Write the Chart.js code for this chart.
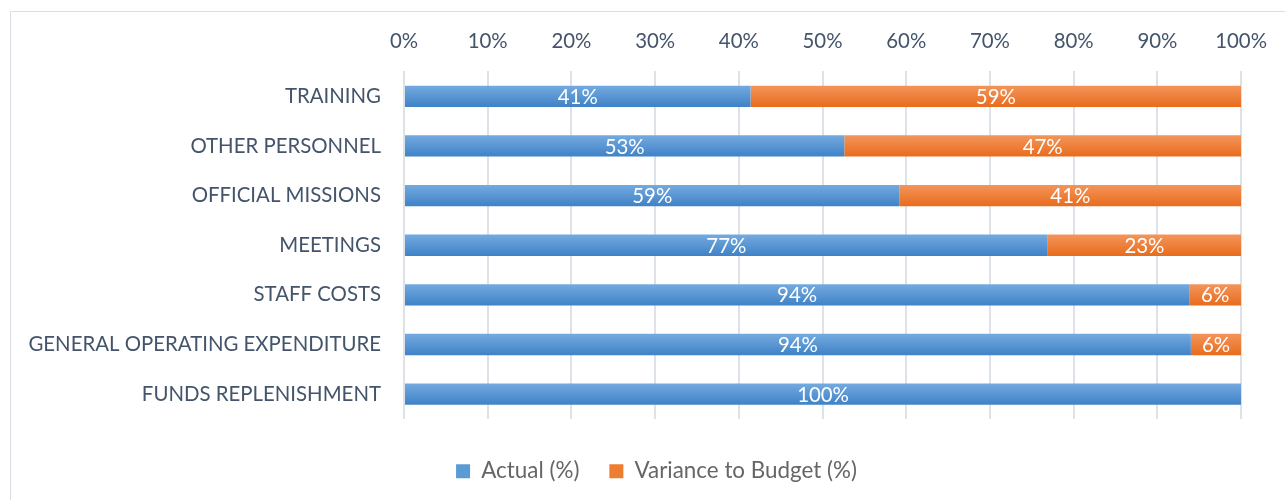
<!DOCTYPE html>
<html>
<head>
<meta charset="utf-8">
<script src="https://cdn.jsdelivr.net/npm/chart.js@4.4.0/dist/chart.umd.min.js"></script>
<style>
  html, body { margin: 0; padding: 0; background: #fff; overflow: hidden; }
  #wrap { position: relative; width: 1285px; height: 500px; }
  #frame { position: absolute; left: 10px; top: 11px; width: 1300px; height: 520px; border: 1px solid #dadee5; box-sizing: border-box; pointer-events: none; }
</style>
</head>
<body>
<div id="wrap">
  <canvas id="chart" width="1285" height="500"></canvas>
  <div id="frame"></div>
</div>
<script>
// budget execution per cost line, in % of budget
const categories = [
  'TRAINING',
  'OTHER PERSONNEL',
  'OFFICIAL MISSIONS',
  'MEETINGS',
  'STAFF COSTS',
  'GENERAL OPERATING EXPENDITURE',
  'FUNDS REPLENISHMENT'
];
const actual = [41.4, 52.6, 59.2, 76.9, 93.8, 94.0, 100];
const variance = [58.6, 47.4, 40.8, 23.1, 6.2, 6.0, 0];
const seriesNames = ['Actual (%)', 'Variance to Budget (%)'];

const FONT = 'Lato';
const TEXT = '#44546a';
const BAR_PCT = 0.43;
const PAD_LEFT = 10;
const PLOT_LEFT = 404;

// size the font so the longest label is as wide as in the picture
const probe = document.createElement('canvas').getContext('2d');
probe.font = '100px ' + FONT;
const fontSize = Math.round(353 / probe.measureText('GENERAL OPERATING EXPENDITURE').width * 1000) / 10;
const legendSize = Math.round(fontSize * 11) / 10;

// light top -> dark bottom on every bar, like the Office gradient fill
const gradientFill = (light, dark) => (context) => {
  const chart = context.chart;
  const area = chart.chartArea;
  const y = chart.scales.y;
  if (!area || !y) return dark;
  const h = area.bottom - area.top;
  const half = (y.height / categories.length) * BAR_PCT / 2;
  const g = chart.ctx.createLinearGradient(0, area.top, 0, area.bottom);
  categories.forEach((c, i) => {
    const mid = y.getPixelForValue(i);
    const t = Math.min(Math.max((mid - half - area.top) / h, 0), 1);
    const b = Math.min(Math.max((mid + half - area.top) / h, 0), 1);
    g.addColorStop(t, light);
    g.addColorStop(b, dark);
  });
  return g;
};

const barLabels = {
  id: 'barLabels',
  afterDatasetsDraw(chart) {
    const ctx = chart.ctx;
    ctx.save();
    ctx.font = fontSize + 'px ' + FONT;
    ctx.fillStyle = '#ffffff';
    ctx.textAlign = 'center';
    ctx.textBaseline = 'middle';
    chart.data.datasets.forEach((ds, di) => {
      chart.getDatasetMeta(di).data.forEach((bar, i) => {
        const v = ds.data[i];
        if (!v) return;
        const p = bar.getProps(['x', 'y', 'base'], true);
        ctx.fillText(Math.round(v) + '%', (p.x + p.base) / 2, p.y + 1);
      });
    });
    ctx.restore();
  }
};

// the legend in the picture is centred on the whole frame, not the canvas
const legendShift = {
  id: 'legendShift',
  afterLayout(chart) {
    chart.legend.left += 27;
    chart.legend.right += 27;
  }
};

new Chart(document.getElementById('chart'), {
  type: 'bar',
  data: {
    labels: categories,
    datasets: [
      {
        label: seriesNames[0],
        data: actual,
        backgroundColor: gradientFill('#74aae0', '#3f82c6'),
        categoryPercentage: 1,
        barPercentage: BAR_PCT
      },
      {
        label: seriesNames[1],
        data: variance,
        backgroundColor: gradientFill('#f3955b', '#e86c1c'),
        categoryPercentage: 1,
        barPercentage: BAR_PCT
      }
    ]
  },
  options: {
    indexAxis: 'y',
    responsive: false,
    animation: false,
    devicePixelRatio: 1,
    layout: { padding: { left: PAD_LEFT, right: 36, top: 11, bottom: 7.6 } },
    scales: {
      x: {
        position: 'top',
        stacked: true,
        min: 0,
        max: 100,
        border: { display: false },
        grid: { color: '#dde2e9', lineWidth: 2, drawTicks: false },
        ticks: {
          stepSize: 10,
          padding: 18,
          color: TEXT,
          font: { family: FONT, size: fontSize },
          callback: v => v + '%'
        }
      },
      y: {
        stacked: true,
        border: { display: false },
        grid: { display: false, drawTicks: false },
        ticks: { padding: 23, color: TEXT, font: { family: FONT, size: fontSize } },
        afterFit(scale) { scale.width = PLOT_LEFT - PAD_LEFT; }
      }
    },
    plugins: {
      tooltip: { enabled: false },
      legend: {
        position: 'bottom',
        title: { display: true, text: '', padding: 0, font: { size: 11, lineHeight: 1 } },
        labels: {
          boxWidth: 14,
          boxHeight: 14,
          padding: 30,
          color: TEXT,
          font: { family: FONT, size: legendSize },
          generateLabels(chart) {
            return chart.data.datasets.map((ds, i) => ({
              text: ds.label,
              fillStyle: i === 0 ? '#5b9bd5' : '#ed7d31',
              strokeStyle: 'transparent',
              lineWidth: 0,
              datasetIndex: i
            }));
          }
        }
      }
    }
  },
  plugins: [barLabels, legendShift]
});
</script>
</body>
</html>
